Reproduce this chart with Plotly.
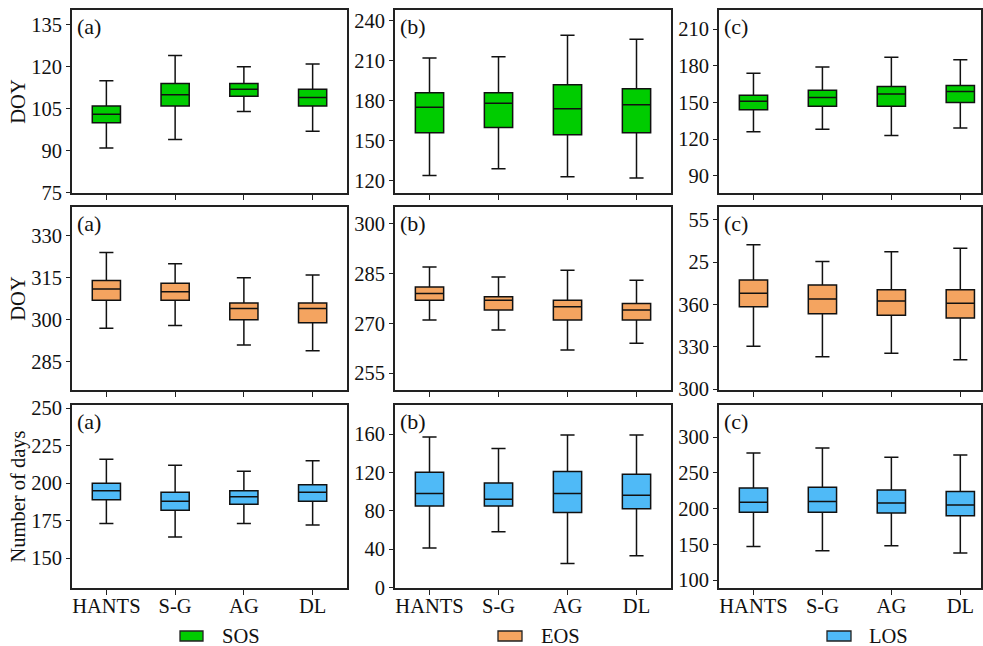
import plotly.graph_objects as go

categories = ["HANTS", "S-G", "AG", "DL"]

# Row 1: SOS
sos_a = dict(low=[91, 94, 104, 97], q1=[100, 106, 109.5, 106], med=[103, 110, 112, 109], q3=[106, 114, 114, 112], high=[115, 124, 120, 121])
sos_b = dict(low=[124, 129, 123, 122], q1=[156, 160, 154.5, 156], med=[175, 178, 174, 177], q3=[186, 186, 192, 189], high=[212, 213, 229, 226])
sos_c = dict(low=[126, 128, 123, 129], q1=[144, 147, 147, 150], med=[151, 154, 157, 159], q3=[156, 160, 163, 164], high=[174, 179, 187, 185])
# Row 2: EOS
eos_a = dict(low=[297, 298, 291, 289], q1=[307, 307, 300, 299], med=[311, 310, 304, 304], q3=[314, 313, 306, 306], high=[324, 320, 315, 316])
eos_b = dict(low=[271, 268, 262, 264], q1=[277, 274, 271, 271], med=[279, 277, 275, 274], q3=[281, 278, 277, 276], high=[287, 284, 286, 283])
# panel (c) wraps past day 365: 390 -> 25, 420 -> 55
eos_c = dict(low=[330.5, 323, 325.5, 321], q1=[358.5, 353.5, 352.5, 350.5], med=[368, 364, 362.5, 361], q3=[377.5, 374, 370.5, 370.5], high=[402.5, 390.5, 397.5, 400])
# Row 3: LOS
los_a = dict(low=[173, 164, 173, 172], q1=[189, 182, 186, 188], med=[195, 188, 191, 194], q3=[200, 194, 195, 199], high=[216, 212, 208, 215])
los_b = dict(low=[41, 58, 25, 33], q1=[85, 85, 78, 82], med=[98, 92, 98, 96], q3=[120, 109, 121, 118], high=[157, 145, 159, 159])
los_c = dict(low=[147, 141, 148, 138], q1=[195, 195, 194, 190], med=[209, 210, 208, 205], q3=[229, 230, 226, 224], high=[278, 285, 272, 275])

panel_labels = ["(a)", "(b)", "(c)"]
series_names = ["SOS", "EOS", "LOS"]
row_titles = ["DOY", "DOY", "Number of days"]
colors = ["rgb(0,204,0)", "rgb(244,164,96)", "rgb(79,186,247)"]

y_ranges = [
    [[74.9, 140.3], [110.8, 248], [75.8, 225.8]],
    [[275, 340.2], [249.9, 305.1], [299.5, 429.2]],
    [[130, 252.2], [-0.7, 190.3], [88.8, 345.2]],
]
y_ticks = [
    [[75, 90, 105, 120, 135], [120, 150, 180, 210, 240], [90, 120, 150, 180, 210]],
    [[285, 300, 315, 330], [255, 270, 285, 300], [300, 330, 360, 390, 420]],
    [[150, 175, 200, 225, 250], [0, 40, 80, 120, 160], [100, 150, 200, 250, 300]],
]
y_ticktext = [
    [None, None, None],
    [None, None, ["300", "330", "360", "25", "55"]],
    [None, None, None],
]
data = [[sos_a, sos_b, sos_c], [eos_a, eos_b, eos_c], [los_a, los_b, los_c]]

W, H = 983, 646
col_px = [(72, 347), (395, 671), (719, 981)]
row_px = [(10, 193), (207, 390), (405, 588)]
x_ranges = [[-0.5, 3.5], [-0.5, 3.5], [-0.5, 3.3]]
legend_swatch_px = [(180, 203), (498, 522), (827, 851)]
legend_text_px = [220, 539, 867]
legend_y_px = (631, 641)

FONT = "Liberation Serif"
FS = 20.5
fig = go.Figure()
layout = {}
annotations = []
shapes = []

for r in range(3):
    for c in range(3):
        idx = r * 3 + c + 1
        xa = "x" if idx == 1 else f"x{idx}"
        ya = "y" if idx == 1 else f"y{idx}"
        d = data[r][c]
        fig.add_trace(go.Box(
            x=categories,
            q1=d["q1"], median=d["med"], q3=d["q3"],
            lowerfence=d["low"], upperfence=d["high"],
            xaxis=xa, yaxis=ya,
            fillcolor=colors[r],
            line=dict(color="#111111", width=1.5),
            width=0.41, whiskerwidth=0.5,
            boxpoints=False, hoverinfo="skip",
            name=series_names[r],
            showlegend=False,
        ))
        x0, x1 = col_px[c]
        y0, y1 = row_px[r]
        xkey = "xaxis" if idx == 1 else f"xaxis{idx}"
        ykey = "yaxis" if idx == 1 else f"yaxis{idx}"
        layout[xkey] = dict(
            domain=[x0 / W, x1 / W], anchor=ya,
            range=x_ranges[c], type="category",
            showline=True, linecolor="#222222", linewidth=1.6, mirror=True,
            ticks="outside", ticklen=5, tickwidth=1.3, tickcolor="#222222",
            showticklabels=(r == 2), ticklabelstandoff=-6,
            showgrid=False, zeroline=False,
            tickfont=dict(family=FONT, size=FS, color="#111111"),
            automargin=False, fixedrange=True,
        )
        yaxis = dict(
            domain=[1 - y1 / H, 1 - y0 / H], anchor=xa,
            range=y_ranges[r][c], tickmode="array", tickvals=y_ticks[r][c],
            showline=True, linecolor="#222222", linewidth=1.6, mirror=True,
            ticks="outside", ticklen=4, tickwidth=1.3, tickcolor="#222222",
            showgrid=False, zeroline=False,
            tickfont=dict(family=FONT, size=FS, color="#111111"),
            automargin=False, fixedrange=True,
        )
        if y_ticktext[r][c] is not None:
            yaxis["ticktext"] = y_ticktext[r][c]
        if c == 0:
            yaxis["title"] = dict(text=row_titles[r], font=dict(family=FONT, size=FS, color="#111111"), standoff=0)
        layout[ykey] = yaxis
        annotations.append(dict(
            xref=f"{xa} domain", yref=f"{ya} domain", x=0.01, y=0.99,
            xanchor="left", yanchor="top", showarrow=False,
            text=panel_labels[c], font=dict(family=FONT, size=22, color="#111111"),
        ))

# legend: one swatch + label under each column
for i in range(3):
    sx0, sx1 = legend_swatch_px[i]
    shapes.append(dict(
        type="rect", xref="paper", yref="paper",
        x0=sx0 / W, x1=sx1 / W, y0=1 - legend_y_px[1] / H, y1=1 - legend_y_px[0] / H,
        fillcolor=colors[i], line=dict(color="#222222", width=1.3),
    ))
    annotations.append(dict(
        xref="paper", yref="paper", x=legend_text_px[i] / W,
        y=1 - (legend_y_px[0] + legend_y_px[1]) / 2 / H,
        xanchor="left", yanchor="middle", showarrow=False,
        text=series_names[i], font=dict(family=FONT, size=FS, color="#111111"),
    ))

fig.update_layout(
    width=W, height=H,
    margin=dict(l=0, r=0, t=0, b=0),
    paper_bgcolor="white", plot_bgcolor="white",
    font=dict(family=FONT, size=FS, color="#111111"),
    annotations=annotations, shapes=shapes,
    showlegend=False,
    **layout,
)
fig.write_html("out.html")
